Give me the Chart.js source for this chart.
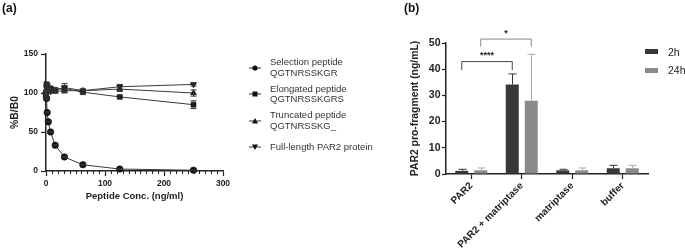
<!DOCTYPE html>
<html><head><meta charset="utf-8">
<script src="https://cdn.jsdelivr.net/npm/chart.js@4.4.1/dist/chart.umd.min.js"></script>
<style>
html,body{margin:0;padding:0;background:#fff;}
body{width:685px;height:252px;position:relative;overflow:hidden;font-family:"Liberation Sans",Arial,sans-serif;}
#ca{position:absolute;left:0;top:0;}
#cb{position:absolute;left:395px;top:0;}
.pl{position:absolute;font-weight:bold;font-size:12px;color:#111;line-height:14px;}
.lg{position:absolute;left:270px;font-size:9.5px;color:#333;line-height:10.5px;white-space:nowrap;}
.mk{position:absolute;left:247px;}
.lb{position:absolute;font-size:10.5px;color:#222;line-height:12px;white-space:nowrap;}
.sw{position:absolute;width:13px;height:5px;}
</style>
</head><body>
<canvas id="ca" width="240" height="252"></canvas>
<canvas id="cb" width="290" height="252"></canvas>
<div class="pl" style="left:2px;top:1px;">(a)</div>
<div class="pl" style="left:404px;top:1px;">(b)</div>

<div class="lg" style="top:57px;">Selection peptide<br>QGTNRSSKGR</div>
<div class="lg" style="top:83.5px;">Elongated peptide<br>QGTNRSSKGRS</div>
<div class="lg" style="top:110px;">Truncated peptide<br>QGTNRSSKG_</div>
<div class="lg" style="top:142px;">Full-length PAR2 protein</div>
<svg class="mk" style="top:62px" width="16" height="12"><line x1="2" y1="6" x2="14" y2="6" stroke="#333" stroke-width="1"/><circle cx="8" cy="6" r="2.6" fill="#111"/></svg>
<svg class="mk" style="top:88px" width="16" height="12"><line x1="2" y1="6" x2="14" y2="6" stroke="#333" stroke-width="1"/><rect x="5.5" y="3.5" width="5" height="5" fill="#111"/></svg>
<svg class="mk" style="top:114.5px" width="16" height="12"><line x1="2" y1="6" x2="14" y2="6" stroke="#333" stroke-width="1"/><polygon points="8,3 11,8.5 5,8.5" fill="#111"/></svg>
<svg class="mk" style="top:141px" width="16" height="12"><line x1="2" y1="6" x2="14" y2="6" stroke="#333" stroke-width="1"/><polygon points="8,9 11,3.5 5,3.5" fill="#111"/></svg>

<div class="sw" style="left:645px;top:49px;background:#383838;"></div>
<div class="lb" style="left:668px;top:45.5px;">2h</div>
<div class="sw" style="left:645px;top:67.5px;background:#8a8a8a;"></div>
<div class="lb" style="left:668px;top:64px;">24h</div>

<script>
// ---------- Panel (a) data ----------
const concentrations = [0, 0.98, 1.95, 3.9, 7.8, 15.6, 31.25, 62.5, 125, 250];
const selectionPeptide = [100, 93, 75, 63, 50, 33, 18, 8, 2.5, 1];
const selectionErr     = [2, 2, 1, 1, 1, 1, 1, 0.5, 0.5, 0.5];
const elongatedPeptide = [100, 111, 108, 103, 106, 104, 106, 101, 95, 85];
const elongatedErr     = [3, 3, 3, 3, 2, 2, 3, 2, 2, 5];
const truncatedPeptide = [97, 105, 102, 104, 103, 102, 103, 103, 105, 100];
const truncatedErr     = [3, 2, 2, 2, 2, 2, 3, 2, 3, 4];
const fullLengthPAR2   = [95, 108, 110, 106, 102, 104, 107, 103, 108, 111];
const fullLengthErr    = [3, 3, 2, 3, 2, 2, 5, 2, 3, 2];
const xTicksA = [0, 100, 200, 300];
const yTicksA = [0, 50, 100, 150];

// ---------- Panel (b) data ----------
const barCategories = ['PAR2', 'PAR2 + matriptase', 'matriptase', 'buffer'];
const values2h  = [1.2, 34.2, 1.4, 2.2];
const err2h     = [0.6, 4.0, 0.4, 1.1];
const values24h = [1.4, 28.0, 1.4, 2.2];
const err24h    = [0.9, 17.7, 0.9, 1.1];
const yTicksB = [0, 10, 20, 30, 40, 50];
// significance: [category from, category to, dataset index, bracket top value, leg bottom value, label]
const sigBrackets = [
  [0, 1, 0, 42.9, 39.7, '****'],
  [0, 1, 1, 51.5, 48.6, '*']
];

const FONT = '"Liberation Sans", Arial, sans-serif';
const AXIS = '#222';

const errorBarsA = {
  id: 'errA',
  afterDatasetsDraw(chart) {
    const ctx = chart.ctx, ys = chart.scales.y;
    ctx.save();
    ctx.strokeStyle = '#333'; ctx.lineWidth = 1;
    chart.data.datasets.forEach((ds, i) => {
      const meta = chart.getDatasetMeta(i);
      meta.data.forEach((pt, j) => {
        const e = ds.err[j], v = ds.data[j].y;
        if (!e) return;
        const y1 = ys.getPixelForValue(v + e), y2 = ys.getPixelForValue(v - e);
        ctx.beginPath();
        ctx.moveTo(pt.x, y1); ctx.lineTo(pt.x, y2);
        ctx.moveTo(pt.x - 3, y1); ctx.lineTo(pt.x + 3, y1);
        ctx.moveTo(pt.x - 3, y2); ctx.lineTo(pt.x + 3, y2);
        ctx.stroke();
      });
    });
    ctx.restore();
  }
};
const minorTicksA = {
  id: 'minorA',
  afterDraw(chart) {
    const ctx = chart.ctx, xs = chart.scales.x, b = chart.chartArea.bottom;
    ctx.save();
    ctx.strokeStyle = AXIS; ctx.lineWidth = 1;
    for (let v = 10; v < 300; v += 10) {
      if (v % 100 === 0) continue;
      const px = Math.round(xs.getPixelForValue(v)) + 0.5;
      ctx.beginPath(); ctx.moveTo(px, b); ctx.lineTo(px, b + 3); ctx.stroke();
    }
    ctx.restore();
  }
};

function lineDs(label, ys, errs, style, rot, radius) {
  return {
    label, err: errs,
    data: concentrations.map((x, i) => ({x, y: ys[i]})),
    showLine: true, borderColor: '#3a3a3a', borderWidth: 1,
    pointStyle: style, rotation: rot, pointRadius: radius,
    pointBackgroundColor: '#111', pointBorderColor: '#111', pointBorderWidth: 0.5,
    clip: false
  };
}

new Chart(document.getElementById('ca'), {
  type: 'scatter',
  data: {
    datasets: [
      lineDs('Selection peptide QGTNRSSKGR', selectionPeptide, selectionErr, 'circle', 0, 3.3),
      lineDs('Elongated peptide QGTNRSSKGRS', elongatedPeptide, elongatedErr, 'rect', 0, 3.5),
      lineDs('Truncated peptide QGTNRSSKG_', truncatedPeptide, truncatedErr, 'triangle', 0, 3.5),
      lineDs('Full-length PAR2 protein', fullLengthPAR2, fullLengthErr, 'triangle', 180, 3.5)
    ]
  },
  options: {
    responsive: false, animation: false,
    layout: {padding: {left: 0, top: 54, right: 17, bottom: 50}},
    plugins: {legend: {display: false}, tooltip: {enabled: false}},
    scales: {
      x: {
        type: 'linear', min: 0, max: 300,
        afterBuildTicks: s => { s.ticks = xTicksA.map(v => ({value: v})); },
        afterFit: s => { s.height = 31; },
        grid: {drawOnChartArea: false, tickLength: 5, color: AXIS, tickWidth: 1.2},
        border: {color: AXIS, width: 1.5},
        ticks: {font: {family: FONT, size: 8.5, weight: 'bold'}, color: AXIS, padding: 3, maxRotation: 0},
        title: {display: true, text: 'Peptide Conc. (ng/ml)', font: {family: FONT, size: 9.5, weight: 'bold'}, color: AXIS, padding: {top: 0, bottom: 0}}
      },
      y: {
        min: 0, max: 150,
        afterBuildTicks: s => { s.ticks = yTicksA.map(v => ({value: v})); },
        afterFit: s => { s.width = 46; },
        grid: {drawOnChartArea: false, tickLength: 5, color: AXIS, tickWidth: 1.2},
        border: {color: AXIS, width: 1.5},
        ticks: {font: {family: FONT, size: 8.5, weight: 'bold'}, color: AXIS, padding: 3},
        title: {display: true, text: '%B/B0', font: {family: FONT, size: 10.4, weight: 'bold'}, color: AXIS, padding: {top: 9, bottom: 0}}
      }
    }
  },
  plugins: [errorBarsA, minorTicksA]
});

const barExtras = {
  id: 'barExtras',
  afterDatasetsDraw(chart) {
    const ctx = chart.ctx, ys = chart.scales.y;
    ctx.save();
    chart.data.datasets.forEach((ds, i) => {
      const meta = chart.getDatasetMeta(i);
      ctx.strokeStyle = ds.errColor; ctx.lineWidth = 1;
      meta.data.forEach((bar, j) => {
        const top = ys.getPixelForValue(ds.data[j] + ds.err[j]);
        const base = ys.getPixelForValue(ds.data[j]);
        const x = Math.round(bar.x) + 0.5;
        ctx.beginPath();
        ctx.moveTo(x, base); ctx.lineTo(x, top);
        ctx.moveTo(x - 4, top); ctx.lineTo(x + 4, top);
        ctx.stroke();
      });
    });
    sigBrackets.forEach(([c1, c2, di, topV, legV, label], k) => {
      const meta = chart.getDatasetMeta(di);
      const x1 = meta.data[c1].x, x2 = meta.data[c2].x;
      const yt = ys.getPixelForValue(topV), yb = ys.getPixelForValue(legV);
      ctx.strokeStyle = k === 0 ? '#444' : '#888'; ctx.lineWidth = 1;
      ctx.beginPath();
      ctx.moveTo(x1, yb); ctx.lineTo(x1, yt); ctx.lineTo(x2, yt); ctx.lineTo(x2, yb);
      ctx.stroke();
      ctx.fillStyle = '#222';
      ctx.font = 'bold 9px ' + FONT;
      ctx.textAlign = 'center'; ctx.textBaseline = 'middle';
      ctx.fillText(label, (x1 + x2) / 2, yt - 6);
    });
    ctx.restore();
  }
};

new Chart(document.getElementById('cb'), {
  type: 'bar',
  data: {
    labels: barCategories,
    datasets: [
      {label: '2h', data: values2h, err: err2h, errColor: '#333', backgroundColor: '#383838',
       barPercentage: 0.684, categoryPercentage: 0.752},
      {label: '24h', data: values24h, err: err24h, errColor: '#aaa', backgroundColor: '#8a8a8a',
       barPercentage: 0.684, categoryPercentage: 0.752}
    ]
  },
  options: {
    responsive: false, animation: false,
    layout: {padding: {left: 0, top: 43, right: 37, bottom: 0}},
    plugins: {legend: {display: false}, tooltip: {enabled: false}},
    scales: {
      x: {
        afterFit: s => { s.height = 78; },
        grid: {drawOnChartArea: false, offset: false, tickLength: 5, color: AXIS, tickWidth: 1.2},
        border: {color: AXIS, width: 1.5},
        ticks: {font: {family: FONT, size: 10, weight: 'bold'}, color: AXIS, padding: 1,
                minRotation: 45, maxRotation: 45, autoSkip: false}
      },
      y: {
        min: 0, max: 50,
        afterBuildTicks: s => { s.ticks = yTicksB.map(v => ({value: v})); },
        afterFit: s => { s.width = 51; },
        grid: {drawOnChartArea: false, tickLength: 4, color: AXIS, tickWidth: 1.2},
        border: {color: AXIS, width: 1.5},
        ticks: {font: {family: FONT, size: 10.5, weight: 'bold'}, color: AXIS, padding: 1.5},
        title: {display: true, text: 'PAR2 pro-fragment (ng/mL)', font: {family: FONT, size: 10.4, weight: 'bold'}, color: AXIS, padding: {top: 14, bottom: 0}}
      }
    }
  },
  plugins: [barExtras]
});
</script>
</body></html>
